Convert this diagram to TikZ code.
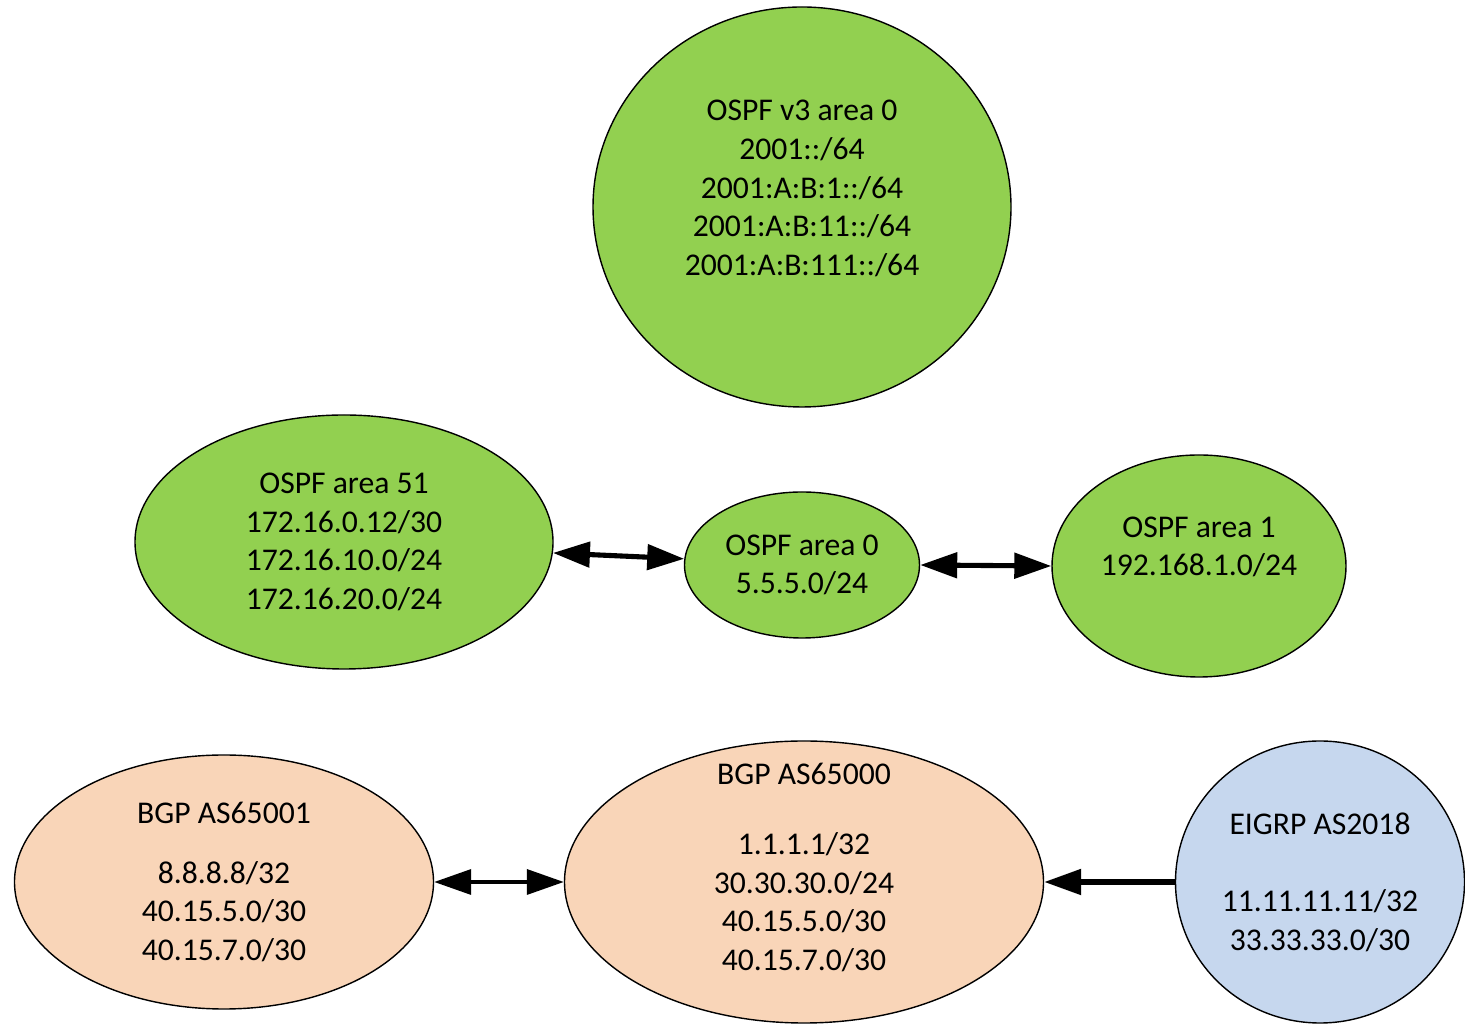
\documentclass[tikz,border=0pt]{standalone}
\usepackage{fontspec}
\setmainfont{Carlito}
\usetikzlibrary{shapes.geometric,arrows.meta}
\definecolor{ospfgreen}{HTML}{92D050}
\definecolor{bgppeach}{HTML}{F9D5B8}
\definecolor{eigrpblue}{HTML}{C6D7EE}
\begin{document}
\begin{tikzpicture}[line join=round, >={Triangle[length=0.74cm,width=0.5cm]},
	every node/.style={font=\fontsize{18}{22}\selectfont, align=center},
	area/.style={ellipse, draw, line width=0.8pt, inner sep=-0.8cm},
	ospf/.style={area, fill=ospfgreen},
	bgp/.style={area, fill=bgppeach},
	eigrp/.style={area, fill=eigrpblue},
	link/.style={<->, line width=2.9pt},
	thinlink/.style={<->, line width=2pt},
	feed/.style={->, line width=3pt}]
	\useasboundingbox (0,0) rectangle (29.3,20.5);
	\node[ospf, minimum width=8.36cm, minimum height=8cm] (v3) at (16.04,16.36)
		{OSPF v3 area 0\\2001::/64\\2001:A:B:1::/64\\2001:A:B:11::/64\\2001:A:B:111::/64\\[-7pt]\strut};
	\node[ospf, minimum width=8.36cm, minimum height=5.08cm] (area51) at (6.88,9.66)
		{OSPF area 51\\172.16.0.12/30\\172.16.10.0/24\\172.16.20.0/24};
	\node[ospf, minimum width=4.7cm, minimum height=2.92cm] (area0) at (16.04,9.2)
		{OSPF area 0\\5.5.5.0/24};
	\node[ospf, minimum width=5.88cm, minimum height=4.44cm] (area1) at (23.98,9.18)
		{OSPF area 1\\192.168.1.0/24\\[-6pt]\strut};
	\node[bgp, minimum width=8.38cm, minimum height=5.08cm] (as65001) at (4.48,2.86)
		{BGP AS65001\\[12pt]8.8.8.8/32\\40.15.5.0/30\\40.15.7.0/30};
	\node[bgp, minimum width=9.58cm, minimum height=5.64cm] (as65000) at (16.08,2.86)
		{BGP AS65000\\[18pt]1.1.1.1/32\\30.30.30.0/24\\40.15.5.0/30\\40.15.7.0/30\\[-11pt]\strut};
	\node[eigrp, minimum width=5.78cm, minimum height=5.64cm] (eigrp) at (26.4,2.86)
		{EIGRP AS2018\\[22pt]11.11.11.11/32\\33.33.33.0/30};
	\draw[link] (area51.-3) -- (area0.177);
	\draw[link] (area0.east) -- (area1.west);
	\draw[thinlink] (as65001.east) -- (as65000.west);
	\draw[feed] (eigrp.west) -- (as65000.east);
\end{tikzpicture}
\end{document}
